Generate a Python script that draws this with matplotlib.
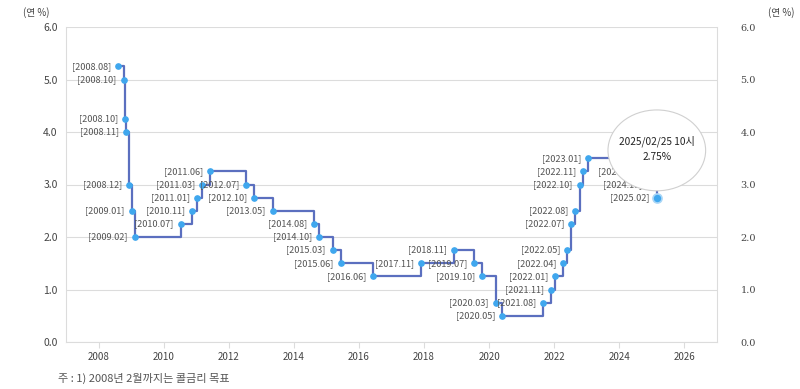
import numpy as np
import pandas as pd
import matplotlib
matplotlib.use("Agg")
import matplotlib.pyplot as plt
from matplotlib.patches import Ellipse

plt.rcParams['font.family'] = ['Noto Sans CJK KR', 'DejaVu Sans']

# 기준금리 변경일 / 금리 (연 %)
DATES = [
    "2008-08-07", "2008-10-09", "2008-10-27", "2008-11-07", "2008-12-11",
    "2009-01-09", "2009-02-12", "2010-07-09", "2010-11-16", "2011-01-13",
    "2011-03-10", "2011-06-10", "2012-07-12", "2012-10-11", "2013-05-09",
    "2014-08-14", "2014-10-15", "2015-03-12", "2015-06-11", "2016-06-09",
    "2017-11-30", "2018-11-30", "2019-07-18", "2019-10-16", "2020-03-17",
    "2020-05-28", "2021-08-26", "2021-11-25", "2022-01-14", "2022-04-14",
    "2022-05-26", "2022-07-13", "2022-08-25", "2022-10-12", "2022-11-24",
    "2023-01-13", "2024-10-11", "2024-11-28", "2025-02-25",
]
RATES = [
    5.25, 5.00, 4.25, 4.00, 3.00,
    2.50, 2.00, 2.25, 2.50, 2.75,
    3.00, 3.25, 3.00, 2.75, 2.50,
    2.25, 2.00, 1.75, 1.50, 1.25,
    1.50, 1.75, 1.50, 1.25, 0.75,
    0.50, 0.75, 1.00, 1.25, 1.50,
    1.75, 2.25, 2.50, 3.00, 3.25,
    3.50, 3.25, 3.00, 2.75,
]
Y_TICKS = [0.0, 1.0, 2.0, 3.0, 4.0, 5.0, 6.0]
X_TICKS = [2008, 2010, 2012, 2014, 2016, 2018, 2020, 2022, 2024, 2026]
TOOLTIP_TIME = "2025/02/25 10시"
FOOTNOTE = "주 : 1) 2008년 2월까지는 콜금리 목표"

dt = pd.to_datetime(DATES)
days = np.where(dt.is_leap_year, 366, 365)
xs = dt.year + (dt.dayofyear - 1) / days
labels = [f"[{d.year}.{d.month:02d}]" for d in dt]

LINE_C = "#5b6fbf"
DOT_C = "#3fa7ee"
GRID_C = "#dcdcdc"
TXT_C = "#555555"

fig = plt.figure(figsize=(8, 3.89), dpi=100)
ax = fig.add_axes([66/800, 47/389, 651/800, 315/389])

ax.step(xs, RATES, where="post", color=LINE_C, lw=1.6, zorder=2)
ax.plot(xs[:-1], RATES[:-1], "o", color=DOT_C, ms=3.8, zorder=3)
ax.plot(xs[-1:], RATES[-1:], "o", color=DOT_C, ms=6.5, mec="#a9d6f7",
        mew=1.2, zorder=7)

for x, y, lab in zip(xs, RATES, labels):
    ax.annotate(lab, (x, y), xytext=(-5, 0), textcoords="offset points",
                ha="right", va="center", fontsize=6.6, color=TXT_C, zorder=4)

# tooltip
cx, cy = xs[-1], RATES[-1] + 0.9
ax.add_patch(Ellipse((cx, cy), width=3.0, height=1.54, facecolor="white",
                     edgecolor="#d0d0d0", lw=0.8, zorder=5))
ax.annotate(TOOLTIP_TIME, (cx, cy), xytext=(0, 6.5), textcoords="offset points",
            ha="center", va="center", fontsize=7.3, color="#222222", zorder=6)
ax.annotate(f"{RATES[-1]:.2f}%", (cx, cy), xytext=(0, -4.5), textcoords="offset points",
            ha="center", va="center", fontsize=7.3, color="#222222", zorder=6)

ax.set_xlim(2007, 2027)
ax.set_ylim(0, 6)
ax.set_yticks(Y_TICKS)
ax.set_yticklabels([f"{v:.1f}" for v in Y_TICKS])
ax.set_xticks(X_TICKS)
ax.tick_params(axis="y", length=0, pad=6, labelsize=7.5, labelcolor="#444444")
ax.tick_params(axis="x", length=4, color=GRID_C, pad=3, labelsize=7, labelcolor="#444444")
ax.grid(axis="y", color=GRID_C, lw=0.8)
ax.set_axisbelow(True)
ax.spines["top"].set_visible(False)
for s in ["left", "right", "bottom"]:
    ax.spines[s].set_color(GRID_C)

ax2 = ax.twinx()
ax2.set_ylim(0, 6)
ax2.set_yticks(Y_TICKS)
ax2.set_yticklabels([f"{v:.1f}" for v in Y_TICKS], family="DejaVu Serif")
ax2.tick_params(axis="y", length=0, pad=17, labelsize=7, labelcolor="#444444")
for s in ax2.spines.values():
    s.set_visible(False)

fig.text(23/800, 1 - 13/389, "(연 %)", fontsize=7, color="#444444", va="center")
fig.text(768/800, 1 - 13/389, "(연 %)", fontsize=7, color="#444444", va="center")
fig.text(58/800, 1 - 378/389, FOOTNOTE, fontsize=8, color="#555555", va="center")

fig.savefig("out.png", dpi=100)
